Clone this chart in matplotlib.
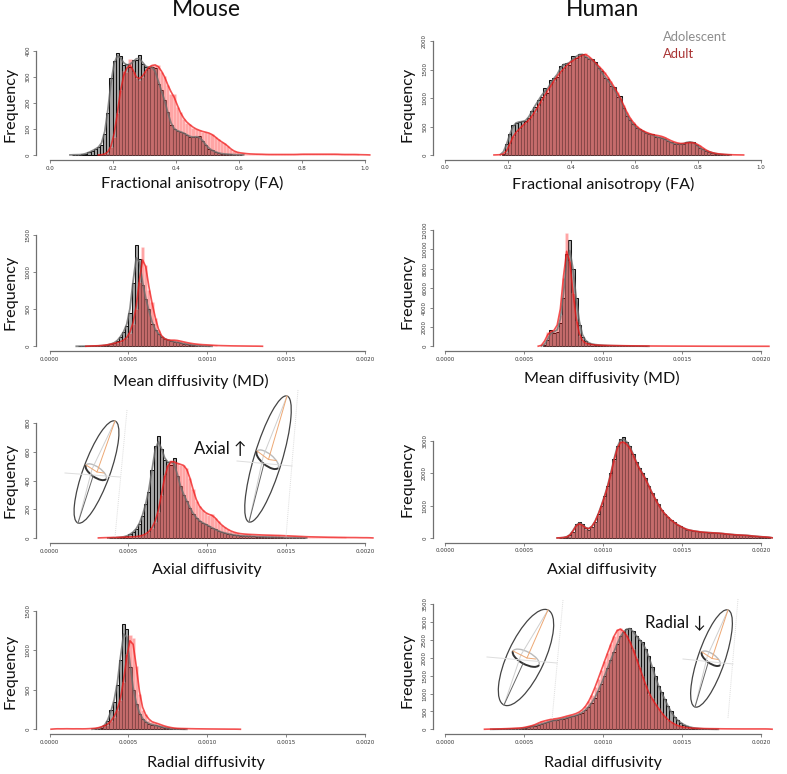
import numpy as np
import matplotlib
matplotlib.use("Agg")
import matplotlib.pyplot as plt
from matplotlib.patches import Ellipse, Arc

W, H = 787, 774
FONT = ["Lato", "DejaVu Sans"]

# --------------------------------------------------
# values (start of first bin, then counts per bin)
# --------------------------------------------------
FA_BIN = 0.01
DIFF_BIN = 0.00002

mouse_fa_ado_start = 0.07
mouse_fa_ado = [1, 1, 1, 2, 5, 10, 16, 22, 30, 38, 80, 160, 295, 363, 391, 380, 345, 350, 340, 365,
                365, 385, 350, 340, 335, 340, 335, 275, 250, 210, 165, 115, 100, 92, 90, 85, 78, 70, 68, 70,
                73, 55, 40, 25, 18, 12, 8, 5, 4, 3, 2, 1, 1, 1]
mouse_fa_adu_start = 0.16
mouse_fa_adu = [1, 3, 8, 30, 70, 160, 250, 325, 320, 370, 320, 295, 290, 300, 325, 340, 345, 348, 345, 320,
                305, 270, 235, 235, 185, 165, 140, 125, 118, 105, 100, 95, 90, 88, 85, 80, 70, 60, 50, 45,
                35, 22, 15, 10, 8, 7, 5, 4, 4, 3, 3, 3, 2, 2, 2, 2, 2, 2, 2, 2,
                2, 2, 2, 3, 3, 3, 3, 3, 3, 3, 3, 3, 3, 3, 3, 3, 2, 2, 2, 2,
                2, 2, 1, 1, 1]

human_fa_ado_start = 0.18
human_fa_ado = [20, 190, 360, 530, 570, 580, 590, 590, 650, 780, 850, 970, 1010, 1170, 1090, 1310, 1350, 1370, 1560, 1590,
                1610, 1580, 1730, 1700, 1780, 1780, 1720, 1680, 1680, 1630, 1530, 1480, 1350, 1340, 1210, 1200, 1010, 1030, 830, 690,
                620, 550, 470, 460, 420, 380, 370, 360, 320, 310, 300, 280, 250, 220, 190, 200, 190, 190, 230, 230,
                230, 180, 130, 100, 70, 60, 40, 25, 15, 10, 6, 3]
human_fa_adu_start = 0.16
human_fa_adu = [3, 5, 10, 50, 190, 340, 400, 450, 520, 560, 610, 680, 760, 860, 950, 1040, 1130, 1220, 1300, 1380,
                1450, 1510, 1570, 1620, 1660, 1690, 1720, 1750, 1790, 1720, 1690, 1620, 1570, 1510, 1450, 1370, 1290, 1190, 1110, 1000,
                880, 750, 650, 580, 510, 460, 430, 400, 380, 360, 350, 340, 330, 310, 280, 250, 230, 210, 200, 200,
                210, 220, 220, 200, 170, 130, 90, 60, 40, 30, 20, 15, 10, 7, 5, 3, 2, 2]

mouse_md_ado_start = 0.00018
mouse_md_ado = [1, 1, 2, 2, 3, 4, 6, 8, 12, 20, 30, 45, 70, 130, 190, 280, 450, 850, 1370, 1180,
                820, 640, 500, 300, 220, 170, 130, 100, 85, 70, 60, 55, 45, 35, 30, 22, 15, 10, 7, 4, 2, 1]
mouse_md_adu_start = 0.00024
mouse_md_adu = [3, 6, 6, 7, 10, 15, 20, 30, 40, 50, 60, 80, 110, 180, 300, 500, 870, 1340, 1100, 760,
                600, 380, 220, 130, 95, 85, 80, 85, 80, 70, 60, 50, 42, 35, 30, 25, 22, 20, 18, 15,
                12, 10, 9, 8, 7, 6, 5, 5, 4, 4, 3, 3, 2, 2, 2]

human_md_ado_start = 0.00062
human_md_ado = [100, 600, 1700, 1400, 1500, 2400, 5000, 9500, 11000, 8000, 5000, 2200, 1000, 550, 320, 220, 170, 140, 110, 90,
                75, 65, 55, 50, 45, 40, 35, 30, 25, 22, 20, 18, 15]
human_md_adu_start = 0.0006
human_md_adu = [50, 300, 1500, 1500, 1550, 2000, 3200, 7000, 11700, 8800, 5500, 2600, 1100, 500, 300, 220, 170, 140, 120, 100,
                90, 85, 80, 75, 70, 65, 60, 55, 50, 45, 42, 40, 38, 35, 32, 30, 28, 26, 25, 24,
                22, 20, 20, 18, 18, 16, 15, 15, 14, 12, 12, 10, 10, 9, 8, 8, 7, 6, 6, 5,
                5, 5, 4, 4, 4, 3, 3, 3, 2, 2, 2, 2]

mouse_ad_ado_start = 0.00038
mouse_ad_ado = [1, 2, 3, 5, 8, 12, 25, 40, 60, 100, 150, 240, 320, 470, 640, 710, 620, 540, 530, 510,
                560, 430, 360, 300, 260, 210, 170, 140, 120, 105, 95, 85, 70, 60, 50, 40, 35, 30, 25, 20,
                18, 15, 14, 13, 12, 11, 10, 9, 8, 7, 6, 6, 5, 4, 4, 3, 3, 2, 2, 1, 1, 1]
mouse_ad_adu_start = 0.00032
mouse_ad_adu = [2, 2, 3, 3, 4, 4, 5, 6, 7, 8, 8, 10, 12, 18, 28, 40, 70, 110, 180, 300,
                440, 510, 540, 530, 520, 510, 510, 490, 420, 340, 260, 220, 195, 175, 160, 165, 140, 115, 90, 75,
                60, 48, 40, 34, 30, 28, 26, 25, 24, 23, 22, 21, 20, 20, 19, 18, 18, 17, 16, 15,
                14, 13, 12, 11, 10, 9, 8, 8, 7, 7, 6, 6, 5, 5, 5, 4, 4, 4, 3, 3,
                3, 3, 2, 2, 2, 2]

human_ad_ado_start = 0.00072
human_ad_ado = [5, 10, 30, 80, 200, 430, 500, 420, 300, 260, 340, 500, 730, 1000, 1300, 1600, 2000, 2450, 2850, 3050,
                3100, 2950, 2850, 2600, 2350, 2150, 2000, 1850, 1600, 1400, 1200, 1050, 850, 750, 650, 550, 480, 400, 370, 300,
                260, 240, 220, 205, 190, 180, 170, 165, 160, 155, 150, 140, 130, 120, 110, 100, 95, 90, 85, 80,
                70, 60, 50, 42, 35, 30, 27]
human_ad_adu_start = 0.00072
human_ad_adu = [8, 12, 25, 70, 190, 410, 470, 400, 290, 260, 340, 490, 720, 980, 1270, 1570, 1960, 2400, 2800, 3000,
                2960, 2900, 2800, 2560, 2320, 2130, 1980, 1820, 1590, 1390, 1190, 1040, 850, 750, 650, 550, 480, 400, 370, 300,
                260, 240, 220, 205, 190, 180, 170, 165, 160, 155, 150, 140, 130, 120, 110, 100, 95, 90, 85, 80,
                70, 60, 50, 42, 35, 30, 27]

mouse_rd_ado_start = 0.00028
mouse_rd_ado = [5, 10, 20, 50, 100, 240, 350, 560, 880, 1340, 1270, 790, 500, 320, 200, 130, 90, 70, 60, 50,
                40, 30, 20, 15, 8, 5, 3, 2, 1]
mouse_rd_adu_start = 0.00002
mouse_rd_adu = [5, 8, 5, 6, 8, 6, 5, 7, 6, 5, 6, 8, 10, 12, 20, 30, 50, 60, 100, 160,
                240, 370, 600, 950, 1190, 1160, 800, 450, 240, 190, 120, 90, 85, 70, 55, 40, 30, 22, 15, 12,
                10, 10, 8, 8, 7, 6, 6, 5, 5, 4, 4, 4, 3, 3, 3, 2, 2, 2, 2]

human_rd_ado_start = 0.0003
human_rd_ado = [3, 4, 5, 6, 8, 10, 13, 16, 20, 24, 40, 60, 80, 100, 125, 150, 170, 200, 230, 250,
                260, 280, 300, 320, 340, 360, 390, 420, 470, 540, 630, 740, 890, 1080, 1270, 1500, 1720, 1950, 2170, 2400,
                2610, 2730, 2820, 2850, 2750, 2620, 2500, 2450, 2250, 2050, 1750, 1500, 1200, 1050, 850, 650, 500, 350, 260, 190,
                130, 90, 60, 40, 30, 20, 12, 8, 5, 3, 2]
human_rd_adu_start = 0.00026
human_rd_adu = [5, 6, 8, 10, 12, 15, 18, 22, 26, 30, 35, 40, 60, 80, 100, 130, 170, 220, 230, 260,
                280, 290, 300, 320, 340, 370, 390, 410, 440, 480, 540, 640, 780, 960, 1180, 1420, 1660, 1910, 2150, 2380,
                2620, 2810, 2830, 2750, 2630, 2470, 2250, 2000, 1750, 1500, 1250, 1000, 870, 720, 590, 470, 360, 270, 200, 150,
                110, 80, 60, 45, 38, 32, 28, 25, 22, 20, 18, 17, 16, 15, 14, 13, 12, 12, 11, 11,
                10, 10, 10, 10, 10, 10, 10, 10, 10, 10]

y_ticks_mouse_fa = [0, 100, 200, 300, 400]
y_ticks_human_fa = [0, 500, 1000, 1500, 2000]
y_ticks_mouse_md = [0, 500, 1000, 1500]
y_ticks_human_md = [0, 2000, 4000, 6000, 8000, 10000, 12000]
y_ticks_mouse_ad = [0, 200, 400, 600, 800]
y_ticks_human_ad = [0, 1000, 2000, 3000]
y_ticks_mouse_rd = [0, 500, 1000, 1500]
y_ticks_human_rd = [0, 500, 1000, 1500, 2000, 2500, 3000, 3500]
x_ticks_fa = [0.0, 0.2, 0.4, 0.6, 0.8, 1.0]
x_ticks_diff = [0.0, 0.0005, 0.0010, 0.0015, 0.0020]


def px_text(fig, x, y, s, **kw):
    fig.text(x / W, 1 - y / H, s, ha="center", va="center", family=FONT, **kw)


def smooth(v):
    # light smoothing, the curve in the original is a density on top of the bars
    v = np.asarray(v, dtype=float)
    p = np.concatenate([[0, 0], v, [0, 0]])
    return np.convolve(p, [0.25, 0.5, 0.25], mode="same")


def hist_panel(fig, col, y0, ytop, yspine, yticks, xticks, binw, ado, ado_start, adu, adu_start, label, xlabel_pos, freq_y):
    x0, x1, xright, xspine, freq_x = (49.5, 365, 378, 36, 11) if col == 0 else (445, 761, 774, 432.7, 408)
    xmax = xticks[-1]
    ax = fig.add_axes([x0 / W, 1 - y0 / H, (xright - x0) / W, (y0 - ytop) / H])
    ax.patch.set_alpha(0)
    ax.set_xlim(0, xmax * (xright - x0) / (x1 - x0))
    ax.set_ylim(0, yticks[-1])

    xa = ado_start + binw * np.arange(len(ado))
    xb = adu_start + binw * np.arange(len(adu))
    ax.bar(xa, ado, width=binw, align="edge", color="#a6a6a6", edgecolor="#111111", linewidth=0.75, clip_on=False, zorder=2)
    ax.bar(xb, adu, width=binw, align="edge", color=(1, 0.05, 0.05, 0.37), edgecolor=(1, 1, 1, 0.25), linewidth=0.4, clip_on=False, zorder=3)

    xa_c = ado_start + binw * (np.arange(len(ado) + 4) - 2 + 0.5)
    xb_c = adu_start + binw * (np.arange(len(adu) + 4) - 2 + 0.5)
    ax.plot(xa_c[1:-1], smooth(ado)[1:-1], color="#6e6e6e", lw=1.3, alpha=0.8, zorder=4, clip_on=False)
    ax.plot(xb_c[1:-1], smooth(adu)[1:-1], color="#f01818", lw=1.2, alpha=0.75, zorder=5, clip_on=False)

    for s in ["top", "right"]:
        ax.spines[s].set_visible(False)
    ax.spines["bottom"].set_position(("outward", (yspine - y0) * 0.72))
    ax.spines["left"].set_position(("outward", (x0 - xspine) * 0.72))
    ax.spines["bottom"].set_bounds(0, xmax)
    ax.spines["left"].set_bounds(0, yticks[-1])
    ax.spines["bottom"].set_color("#707070")
    ax.spines["left"].set_color("#707070")
    ax.spines["bottom"].set_linewidth(0.9)
    ax.spines["left"].set_linewidth(0.9)

    ax.set_xticks(xticks)
    if binw == FA_BIN:
        ax.set_xticklabels([f"{t:.1f}" for t in xticks])
    else:
        ax.set_xticklabels([f"{t:.4f}" for t in xticks])
    ax.set_yticks(yticks)
    ax.set_yticklabels([str(t) for t in yticks], rotation=90, va="center")
    ax.tick_params(axis="both", labelsize=4, length=2, width=0.5, pad=2, color="#555555", labelcolor="#333333")

    px_text(fig, xlabel_pos[0], xlabel_pos[1], label, fontsize=11.6, color="#111111")
    px_text(fig, freq_x, freq_y, "Frequency", fontsize=11.6, rotation=90, color="#111111")


def tensor(ov, tip, bottom, width, ring_a, ring_b, thin_h, thin_v):
    # ellipsoid sketch, everything in pixels of the overlay
    tip, bottom, ring_a, ring_b = map(np.array, (tip, bottom, ring_a, ring_b))
    c = (tip + bottom) / 2
    d = tip - bottom
    ang = np.degrees(np.arctan2(d[1], d[0]))
    ov.plot(*zip(*thin_h), color="#dddddd", lw=0.7)
    ov.plot(*zip(*thin_v), color="#dddddd", lw=0.7, ls=(0, (1, 1)))
    # ring across the ellipse
    rc = (ring_a + ring_b) / 2
    rd = ring_b - ring_a
    rang = np.degrees(np.arctan2(rd[1], rd[0]))
    rl = np.hypot(*rd)
    left = rc - rd * 0.2
    # pale inner lines through the ring
    ov.plot([tip[0], left[0], bottom[0]], [tip[1], left[1], bottom[1]], color="#cfcfcf", lw=0.7)
    ov.add_patch(Ellipse(c, np.hypot(*d), width, angle=ang, fill=False, ec="#444444", lw=0.9))
    ov.add_patch(Arc(rc, rl, rl * 0.42, angle=rang, theta1=180, theta2=360, ec="#bbbbbb", lw=1.0))
    ov.add_patch(Arc(rc, rl, rl * 0.42, angle=rang, theta1=0, theta2=180, ec="#333333", lw=1.4))
    low = rc + np.array([-rd[1], rd[0]]) * 0.21
    ov.plot([low[0], bottom[0]], [low[1], bottom[1]], color="#666666", lw=0.7)
    # orange axes
    ov.plot([tip[0], rc[0] + 1, ring_a[0]], [tip[1], rc[1], ring_a[1]], color="#eda874", lw=0.7)
    ov.plot([rc[0] + 1, rc[0] + rl * 0.32], [rc[1], rc[1] + 1], color="#eda874", lw=0.7)


fig = plt.figure(figsize=(W / 100, H / 100), dpi=100)

px_text(fig, 206, 9, "Mouse", fontsize=16.5, color="#111111")
px_text(fig, 603, 9, "Human", fontsize=16.5, color="#111111")
px_text(fig, 695, 37, "Adolescent", fontsize=9.4, color="#8c8c8c")
px_text(fig, 679, 54, "Adult", fontsize=9.4, color="#a83232")

hist_panel(fig, 0, 155, 51, 160, y_ticks_mouse_fa, x_ticks_fa, FA_BIN, mouse_fa_ado, mouse_fa_ado_start, mouse_fa_adu, mouse_fa_adu_start,
           "Fractional anisotropy (FA)", (192, 183), 104)
hist_panel(fig, 1, 155, 41, 159.5, y_ticks_human_fa, x_ticks_fa, FA_BIN, human_fa_ado, human_fa_ado_start, human_fa_adu, human_fa_adu_start,
           "Fractional anisotropy (FA)", (603, 184), 104)
hist_panel(fig, 0, 346.3, 235, 351, y_ticks_mouse_md, x_ticks_diff, DIFF_BIN, mouse_md_ado, mouse_md_ado_start, mouse_md_adu, mouse_md_adu_start,
           "Mean diffusivity (MD)", (191, 381), 292)
hist_panel(fig, 1, 346.3, 230, 351, y_ticks_human_md, x_ticks_diff, DIFF_BIN, human_md_ado, human_md_ado_start, human_md_adu, human_md_adu_start,
           "Mean diffusivity (MD)", (602, 378), 291)
hist_panel(fig, 0, 538, 423, 543, y_ticks_mouse_ad, x_ticks_diff, DIFF_BIN, mouse_ad_ado, mouse_ad_ado_start, mouse_ad_adu, mouse_ad_adu_start,
           "Axial diffusivity", (207, 570), 480)
hist_panel(fig, 1, 538, 440.7, 542.7, y_ticks_human_ad, x_ticks_diff, DIFF_BIN, human_ad_ado, human_ad_ado_start, human_ad_adu, human_ad_adu_start,
           "Axial diffusivity", (602, 570), 479)
hist_panel(fig, 0, 729.3, 611, 734, y_ticks_mouse_rd, x_ticks_diff, DIFF_BIN, mouse_rd_ado, mouse_rd_ado_start, mouse_rd_adu, mouse_rd_adu_start,
           "Radial diffusivity", (206, 763), 671)
hist_panel(fig, 1, 729.3, 604.3, 734.3, y_ticks_human_rd, x_ticks_diff, DIFF_BIN, human_rd_ado, human_rd_ado_start, human_rd_adu, human_rd_adu_start,
           "Radial diffusivity", (603, 763), 670)

# overlay in pixel coordinates for the ellipsoid sketches
ov = fig.add_axes([0, 0, 1, 1], zorder=10)
ov.set_xlim(0, W)
ov.set_ylim(H, 0)
ov.axis("off")
ov.patch.set_alpha(0)
tensor(ov, (115, 421), (78, 523), 27, (86, 465), (106, 479), [(65, 473), (120, 477)], [(127, 410), (115, 537)])
tensor(ov, (287, 396), (249, 522), 28, (257, 451), (278, 468), [(237, 461), (292, 466)], [(298, 390), (286, 537)])
tensor(ov, (548, 610), (504, 705), 37, (513, 651), (539, 665), [(487, 657), (557, 663)], [(563, 600), (552, 720)])
tensor(ov, (728, 610), (695, 707), 27, (702, 652), (720, 665), [(683, 659), (733, 664)], [(738, 599), (728, 718)])

px_text(fig, 220, 449, "Axial ↑", fontsize=12, color="#111111")
px_text(fig, 675, 622, "Radial ↓", fontsize=12, color="#111111")

fig.savefig("out.png", dpi=100)
